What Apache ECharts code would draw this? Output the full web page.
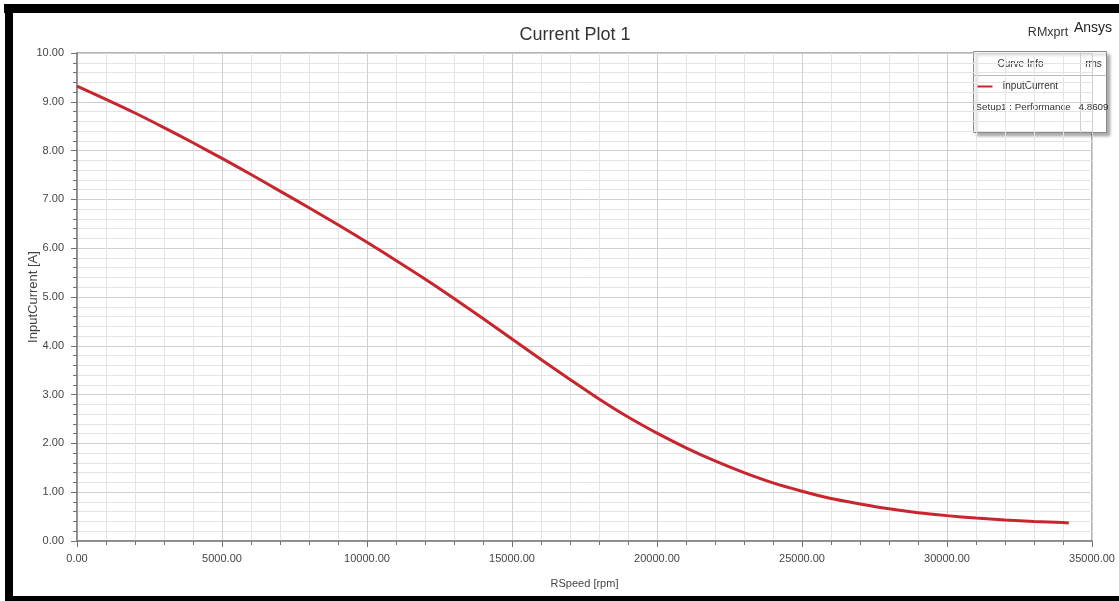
<!DOCTYPE html>
<html>
<head>
<meta charset="utf-8">
<script src="https://cdn.jsdelivr.net/npm/echarts@6/dist/echarts.min.js"></script>
<style>
  html, body { margin: 0; padding: 0; background: #fff; }
  #chart { width: 1119px; height: 601px; }
</style>
</head>
<body>
<div id="chart"></div>
<script>
// speed (rpm) and input current (A)
const rpm = [0, 1000, 2000, 3000, 4000, 5000, 6000, 7000, 8000, 9000,
  10000, 11000, 12000, 13000, 14000, 15000, 16000, 17000, 18000, 19000,
  20000, 21000, 22000, 23000, 24000, 25000, 26000, 27000, 28000, 29000,
  30000, 31000, 32000, 33000, 34000, 34200]
const current = [9.32, 9.05, 8.77, 8.47, 8.16, 7.84, 7.51, 7.17, 6.83, 6.48,
  6.12, 5.75, 5.37, 4.97, 4.56, 4.14, 3.72, 3.31, 2.91, 2.54,
  2.21, 1.91, 1.64, 1.40, 1.19, 1.02, 0.87, 0.76, 0.66, 0.58,
  0.52, 0.47, 0.43, 0.40, 0.38, 0.37]

const seriesName = 'InputCurrent'
const setupName = 'Setup1 : Performance'
const rmsValue = '4.8609'

const font = "'Liberation Sans', Arial, sans-serif"
const lineColor = '#c8262e'

const chart = echarts.init(document.getElementById('chart'))

const option = {
  animation: false,
  textStyle: { fontFamily: font },
  title: {
    text: 'Current Plot 1',
    left: 570,
    top: 21,
    textAlign: 'center',
    textStyle: { fontFamily: font, fontSize: 18, fontWeight: 'normal', color: '#333' }
  },
  grid: {
    left: 77,
    right: 27,
    top: 53,
    bottom: 60,
    show: true,
    borderColor: '#9a9a9a',
    borderWidth: 1.5
  },
  xAxis: {
    type: 'value',
    min: 0,
    max: 35000,
    interval: 5000,
    name: 'RSpeed [rpm]',
    nameLocation: 'middle',
    nameGap: 37,
    nameMoveOverlap: false,
    nameTextStyle: { fontFamily: font, fontSize: 11, color: '#444' },
    axisLine: { show: true, lineStyle: { color: '#808080', width: 1.5 } },
    axisTick: { show: true, length: 6, lineStyle: { color: '#707070' } },
    minorTick: { show: true, splitNumber: 5, length: 4, lineStyle: { color: '#707070' } },
    axisLabel: {
      margin: 12,
      color: '#444',
      fontSize: 11,
      fontFamily: font,
      formatter: v => v.toFixed(2)
    },
    splitLine: { show: true, lineStyle: { color: '#cfcfcf' } },
    minorSplitLine: { show: true, lineStyle: { color: '#e4e4e4' } }
  },
  yAxis: {
    type: 'value',
    min: 0,
    max: 10,
    interval: 1,
    name: 'InputCurrent [A]',
    nameLocation: 'middle',
    nameGap: 37,
    nameMoveOverlap: false,
    nameTextStyle: { fontFamily: font, fontSize: 13, color: '#444' },
    axisLine: { show: true, lineStyle: { color: '#808080', width: 1.5 } },
    axisTick: { show: true, length: 6, lineStyle: { color: '#707070' } },
    minorTick: { show: true, splitNumber: 5, length: 4, lineStyle: { color: '#707070' } },
    axisLabel: {
      margin: 13,
      color: '#444',
      fontSize: 11,
      fontFamily: font,
      formatter: v => v.toFixed(2)
    },
    splitLine: { show: true, lineStyle: { color: '#cfcfcf' } },
    minorSplitLine: { show: true, lineStyle: { color: '#e4e4e4' } }
  },
  series: [
    {
      name: seriesName,
      type: 'line',
      data: rpm.map((r, i) => [r, current[i]]),
      showSymbol: false,
      smooth: 0.3,
      lineStyle: { color: lineColor, width: 3 },
      itemStyle: { color: lineColor }
    }
  ],
  graphic: [
    // black frame of the screenshot
    { type: 'rect', shape: { x: 4, y: 4, width: 1115, height: 9 }, style: { fill: '#000' } },
    { type: 'rect', shape: { x: 5, y: 4, width: 8, height: 597 }, style: { fill: '#000' } },
    { type: 'rect', shape: { x: 5, y: 596, width: 1114, height: 5 }, style: { fill: '#000' } },
    // header texts
    {
      type: 'text', x: 1048, y: 33,
      style: { text: 'RMxprt', fontFamily: font, fontSize: 12.5, fill: '#333', align: 'center', verticalAlign: 'middle' }
    },
    {
      type: 'text', x: 1093, y: 28,
      style: { text: 'Ansys', fontFamily: font, fontSize: 14, fill: '#222', align: 'center', verticalAlign: 'middle' }
    },
    // curve info box
    {
      type: 'group',
      left: 971,
      top: 49,
      children: [
        {
          type: 'rect',
          shape: { x: 0, y: 0, width: 133, height: 81 },
          style: {
            fill: '#fff', stroke: '#8a8a8a', lineWidth: 1,
            shadowColor: 'rgba(0,0,0,0.35)', shadowBlur: 3, shadowOffsetX: 3, shadowOffsetY: 3
          }
        },
        { type: 'line', shape: { x1: 0, y1: 24, x2: 133, y2: 24 }, style: { stroke: '#bbb', lineWidth: 1 } },
        { type: 'line', shape: { x1: 107, y1: 0, x2: 107, y2: 81 }, style: { stroke: '#ccc', lineWidth: 1 } },
        {
          type: 'text', x: 47, y: 13,
          style: { text: 'Curve Info', fontFamily: font, fontSize: 10, fill: '#333', align: 'center', verticalAlign: 'middle' }
        },
        {
          type: 'text', x: 120, y: 13,
          style: { text: 'rms', fontFamily: font, fontSize: 10, fill: '#333', align: 'center', verticalAlign: 'middle' }
        },
        { type: 'line', shape: { x1: 4, y1: 35, x2: 19, y2: 35 }, style: { stroke: lineColor, lineWidth: 2 } },
        {
          type: 'text', x: 29, y: 35,
          style: { text: seriesName, fontFamily: font, fontSize: 10, fill: '#333', verticalAlign: 'middle' }
        },
        {
          type: 'text', x: 2, y: 56,
          style: { text: setupName, fontFamily: font, fontSize: 9.8, fill: '#333', verticalAlign: 'middle' }
        },
        {
          type: 'text', x: 120, y: 56,
          style: { text: rmsValue, fontFamily: font, fontSize: 9.8, fill: '#333', align: 'center', verticalAlign: 'middle' }
        }
      ]
    }
  ]
}

chart.setOption(option)
window.addEventListener('resize', () => chart.resize())
</script>
</body>
</html>
